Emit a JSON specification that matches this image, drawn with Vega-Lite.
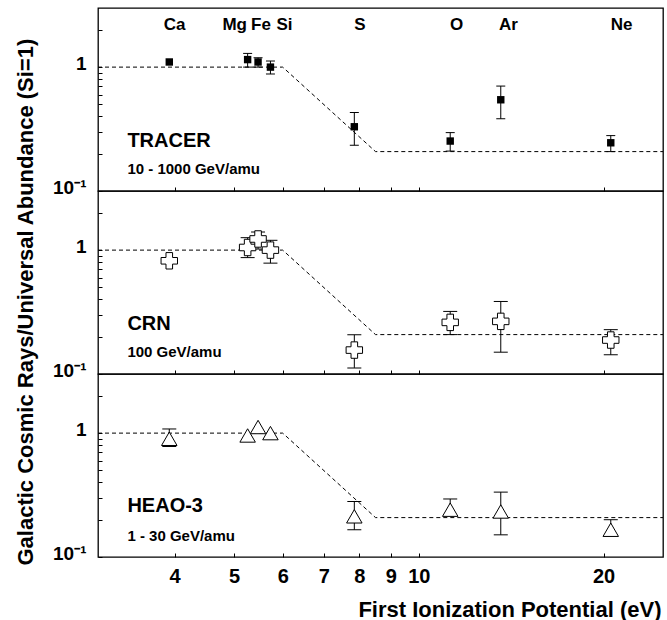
{
  "$schema": "https://vega.github.io/schema/vega-lite/v6.json",
  "autosize": {"type": "pad"},
  "padding": {"left": 13, "top": 7, "right": 5, "bottom": 0},
  "background": "white",
  "bounds": "flush",
  "spacing": 0,
  "datasets": {
    "obs": [
      {"survey": "TRACER", "element": "Ca", "fip": 3.92, "ratio": 1.10, "lo": null, "hi": null},
      {"survey": "TRACER", "element": "Mg", "fip": 5.26, "ratio": 1.15, "lo": 1.00, "hi": 1.29},
      {"survey": "TRACER", "element": "Fe", "fip": 5.47, "ratio": 1.10, "lo": 1.00, "hi": 1.19},
      {"survey": "TRACER", "element": "Si", "fip": 5.73, "ratio": 1.00, "lo": 0.88, "hi": 1.12},
      {"survey": "TRACER", "element": "S", "fip": 7.85, "ratio": 0.33, "lo": 0.234, "hi": 0.43},
      {"survey": "TRACER", "element": "O", "fip": 11.25, "ratio": 0.253, "lo": 0.21, "hi": 0.296},
      {"survey": "TRACER", "element": "Ar", "fip": 13.6, "ratio": 0.545, "lo": 0.383, "hi": 0.703},
      {"survey": "TRACER", "element": "Ne", "fip": 20.55, "ratio": 0.245, "lo": 0.208, "hi": 0.28},
      {"survey": "CRN", "element": "Ca", "fip": 3.92, "ratio": 0.82, "lo": null, "hi": null},
      {"survey": "CRN", "element": "Mg", "fip": 5.26, "ratio": 1.05, "lo": 0.87, "hi": 1.26},
      {"survey": "CRN", "element": "Fe", "fip": 5.47, "ratio": 1.23, "lo": 1.02, "hi": 1.40},
      {"survey": "CRN", "element": "Si", "fip": 5.73, "ratio": 1.00, "lo": 0.785, "hi": 1.20},
      {"survey": "CRN", "element": "S", "fip": 7.85, "ratio": 0.156, "lo": 0.112, "hi": 0.207},
      {"survey": "CRN", "element": "O", "fip": 11.25, "ratio": 0.261, "lo": 0.208, "hi": 0.32},
      {"survey": "CRN", "element": "Ar", "fip": 13.6, "ratio": 0.266, "lo": 0.15, "hi": 0.385},
      {"survey": "CRN", "element": "Ne", "fip": 20.55, "ratio": 0.188, "lo": 0.143, "hi": 0.228},
      {"survey": "HEAO-3", "element": "Ca", "fip": 3.92, "ratio": 0.90, "lo": 0.78, "hi": 1.08},
      {"survey": "HEAO-3", "element": "Mg", "fip": 5.26, "ratio": 0.957, "lo": null, "hi": null},
      {"survey": "HEAO-3", "element": "Fe", "fip": 5.47, "ratio": 1.12, "lo": null, "hi": null},
      {"survey": "HEAO-3", "element": "Si", "fip": 5.73, "ratio": 1.00, "lo": null, "hi": null},
      {"survey": "HEAO-3", "element": "S", "fip": 7.85, "ratio": 0.213, "lo": 0.166, "hi": 0.281},
      {"survey": "HEAO-3", "element": "O", "fip": 11.25, "ratio": 0.241, "lo": 0.216, "hi": 0.294},
      {"survey": "HEAO-3", "element": "Ar", "fip": 13.6, "ratio": 0.233, "lo": 0.151, "hi": 0.334},
      {"survey": "HEAO-3", "element": "Ne", "fip": 20.55, "ratio": 0.166, "lo": 0.147, "hi": 0.20}
    ],
    "model": [
      {"fip": 3, "ratio": 1.0},
      {"fip": 6.0, "ratio": 1.0},
      {"fip": 8.5, "ratio": 0.208},
      {"fip": 25, "ratio": 0.208}
    ],
    "elementLabels": [
      {"element": "Ca", "fip": 4.0},
      {"element": "Mg", "fip": 5.01},
      {"element": "Fe", "fip": 5.53},
      {"element": "Si", "fip": 6.04},
      {"element": "S", "fip": 8.02},
      {"element": "O", "fip": 11.52},
      {"element": "Ar", "fip": 14.0},
      {"element": "Ne", "fip": 21.4}
    ]
  },
  "vconcat": [
    {
      "width": 565,
      "height": 183,
      "layer": [
        {
          "data": {"name": "model"},
          "mark": {"type": "line", "color": "black", "strokeWidth": 1, "strokeDash": [4, 3]},
          "encoding": {
            "x": {"field": "fip", "type": "quantitative", "scale": {"type": "log", "domain": [3, 25], "nice": false},
                  "axis": {"values": [4, 5, 6, 7, 8, 9, 10, 20], "labels": false, "title": null}},
            "y": {"field": "ratio", "type": "quantitative", "scale": {"type": "log", "domain": [0.1, 3], "nice": false},
                  "axis": {"values": [0.1, 0.2, 0.3, 0.4, 0.5, 0.6, 0.7, 0.8, 0.9, 1, 2], "labelExpr": "datum.value == 1 ? '1' : datum.value == 0.1 ? '10⁻¹' : ''", "title": null}}
          }
        },
        {
          "data": {"name": "obs"},
          "transform": [{"filter": "datum.survey === 'TRACER'"}],
          "layer": [
            {
              "mark": {"type": "rule", "color": "black", "strokeWidth": 1},
              "encoding": {
                "x": {"field": "fip", "type": "quantitative"},
                "y": {"field": "lo", "type": "quantitative"},
                "y2": {"field": "hi"}
              }
            },
            {
              "mark": {"type": "tick", "orient": "horizontal", "size": 9, "thickness": 1, "color": "black", "opacity": 1},
              "encoding": {
                "x": {"field": "fip", "type": "quantitative"},
                "y": {"field": "lo", "type": "quantitative"}
              }
            },
            {
              "mark": {"type": "tick", "orient": "horizontal", "size": 9, "thickness": 1, "color": "black", "opacity": 1},
              "encoding": {
                "x": {"field": "fip", "type": "quantitative"},
                "y": {"field": "hi", "type": "quantitative"}
              }
            },
            {
              "mark": {"type": "point", "shape": "square", "filled": true, "color": "black", "size": 55, "opacity": 1},
              "encoding": {
                "x": {"field": "fip", "type": "quantitative"},
                "y": {"field": "ratio", "type": "quantitative"}
              }
            }
          ]
        },
        {
          "data": {"name": "elementLabels"},
          "mark": {"type": "text", "font": "Liberation Sans", "fontWeight": "bold", "fontSize": 17, "color": "black", "align": "center", "baseline": "middle"},
          "encoding": {
            "x": {"field": "fip", "type": "quantitative"},
            "y": {"datum": 2.18},
            "text": {"field": "element"}
          }
        },
        {
          "data": {"values": [{}]},
          "mark": {"type": "text", "font": "Liberation Sans", "fontWeight": "bold", "fontSize": 20, "color": "black", "align": "left", "baseline": "middle"},
          "encoding": {"x": {"datum": 3.35}, "y": {"datum": 0.255}, "text": {"value": "TRACER"}}
        },
        {
          "data": {"values": [{}]},
          "mark": {"type": "text", "font": "Liberation Sans", "fontWeight": "bold", "fontSize": 15, "color": "black", "align": "left", "baseline": "middle"},
          "encoding": {"x": {"datum": 3.35}, "y": {"datum": 0.151}, "text": {"value": "10 - 1000 GeV/amu"}}
        }
      ]
    },
    {
      "width": 565,
      "height": 183,
      "layer": [
        {
          "data": {"name": "model"},
          "mark": {"type": "line", "color": "black", "strokeWidth": 1, "strokeDash": [4, 3]},
          "encoding": {
            "x": {"field": "fip", "type": "quantitative", "scale": {"type": "log", "domain": [3, 25], "nice": false},
                  "axis": {"values": [4, 5, 6, 7, 8, 9, 10, 20], "labels": false, "title": null}},
            "y": {"field": "ratio", "type": "quantitative", "scale": {"type": "log", "domain": [0.1, 3], "nice": false},
                  "axis": {"values": [0.1, 0.2, 0.3, 0.4, 0.5, 0.6, 0.7, 0.8, 0.9, 1, 2], "labelExpr": "datum.value == 1 ? '1' : datum.value == 0.1 ? '10⁻¹' : ''", "title": null}}
          }
        },
        {
          "data": {"name": "obs"},
          "transform": [{"filter": "datum.survey === 'CRN'"}],
          "layer": [
            {
              "mark": {"type": "rule", "color": "black", "strokeWidth": 1},
              "encoding": {
                "x": {"field": "fip", "type": "quantitative"},
                "y": {"field": "lo", "type": "quantitative"},
                "y2": {"field": "hi"}
              }
            },
            {
              "mark": {"type": "tick", "orient": "horizontal", "size": 14, "thickness": 1, "color": "black", "opacity": 1},
              "encoding": {
                "x": {"field": "fip", "type": "quantitative"},
                "y": {"field": "lo", "type": "quantitative"}
              }
            },
            {
              "mark": {"type": "tick", "orient": "horizontal", "size": 14, "thickness": 1, "color": "black", "opacity": 1},
              "encoding": {
                "x": {"field": "fip", "type": "quantitative"},
                "y": {"field": "hi", "type": "quantitative"}
              }
            },
            {
              "mark": {"type": "point", "shape": "cross", "filled": false, "fill": "white", "fillOpacity": 1, "stroke": "black", "strokeWidth": 1, "size": 270, "opacity": 1},
              "encoding": {
                "x": {"field": "fip", "type": "quantitative"},
                "y": {"field": "ratio", "type": "quantitative"}
              }
            }
          ]
        },
        {
          "data": {"values": [{}]},
          "mark": {"type": "text", "font": "Liberation Sans", "fontWeight": "bold", "fontSize": 20, "color": "black", "align": "left", "baseline": "middle"},
          "encoding": {"x": {"datum": 3.35}, "y": {"datum": 0.253}, "text": {"value": "CRN"}}
        },
        {
          "data": {"values": [{}]},
          "mark": {"type": "text", "font": "Liberation Sans", "fontWeight": "bold", "fontSize": 15, "color": "black", "align": "left", "baseline": "middle"},
          "encoding": {"x": {"datum": 3.35}, "y": {"datum": 0.15}, "text": {"value": "100 GeV/amu"}}
        }
      ]
    },
    {
      "width": 565,
      "height": 183,
      "layer": [
        {
          "data": {"name": "model"},
          "mark": {"type": "line", "color": "black", "strokeWidth": 1, "strokeDash": [4, 3]},
          "encoding": {
            "x": {"field": "fip", "type": "quantitative", "scale": {"type": "log", "domain": [3, 25], "nice": false},
                  "axis": {"values": [4, 5, 6, 7, 8, 9, 10, 20], "labels": true, "labelFontSize": 20, "labelPadding": 13,
                           "title": "First Ionization Potential (eV)", "titleFontSize": 22, "titleX": 563, "titleY": 59,
                           "titleAlign": "right", "titleBaseline": "alphabetic"}},
            "y": {"field": "ratio", "type": "quantitative", "scale": {"type": "log", "domain": [0.1, 3], "nice": false},
                  "axis": {"values": [0.1, 0.2, 0.3, 0.4, 0.5, 0.6, 0.7, 0.8, 0.9, 1, 2], "labelExpr": "datum.value == 1 ? '1' : datum.value == 0.1 ? '10⁻¹' : ''",
                           "title": "Galactic Cosmic Rays/Universal Abundance (Si=1)", "titleFontSize": 22, "titleAngle": 270,
                           "titleX": -73, "titleY": 191, "titleAlign": "left", "titleBaseline": "middle"}}
          }
        },
        {
          "data": {"name": "obs"},
          "transform": [{"filter": "datum.survey === 'HEAO-3'"}],
          "layer": [
            {
              "mark": {"type": "rule", "color": "black", "strokeWidth": 1},
              "encoding": {
                "x": {"field": "fip", "type": "quantitative"},
                "y": {"field": "lo", "type": "quantitative"},
                "y2": {"field": "hi"}
              }
            },
            {
              "mark": {"type": "tick", "orient": "horizontal", "size": 14, "thickness": 1, "color": "black", "opacity": 1},
              "encoding": {
                "x": {"field": "fip", "type": "quantitative"},
                "y": {"field": "lo", "type": "quantitative"}
              }
            },
            {
              "mark": {"type": "tick", "orient": "horizontal", "size": 14, "thickness": 1, "color": "black", "opacity": 1},
              "encoding": {
                "x": {"field": "fip", "type": "quantitative"},
                "y": {"field": "hi", "type": "quantitative"}
              }
            },
            {
              "mark": {"type": "point", "shape": "triangle-up", "filled": false, "fill": "white", "fillOpacity": 1, "stroke": "black", "strokeWidth": 1, "size": 240, "opacity": 1},
              "encoding": {
                "x": {"field": "fip", "type": "quantitative"},
                "y": {"field": "ratio", "type": "quantitative"}
              }
            }
          ]
        },
        {
          "data": {"values": [{}]},
          "mark": {"type": "text", "font": "Liberation Sans", "fontWeight": "bold", "fontSize": 20, "color": "black", "align": "left", "baseline": "middle"},
          "encoding": {"x": {"datum": 3.35}, "y": {"datum": 0.256}, "text": {"value": "HEAO-3"}}
        },
        {
          "data": {"values": [{}]},
          "mark": {"type": "text", "font": "Liberation Sans", "fontWeight": "bold", "fontSize": 15, "color": "black", "align": "left", "baseline": "middle"},
          "encoding": {"x": {"datum": 3.35}, "y": {"datum": 0.149}, "text": {"value": "1 - 30 GeV/amu"}}
        }
      ]
    }
  ],
  "config": {
    "font": "Liberation Sans",
    "view": {"stroke": "black", "strokeWidth": 1.3},
    "axis": {
      "domain": false,
      "grid": false,
      "ticks": true,
      "tickColor": "black",
      "tickWidth": 1,
      "tickSize": -4,
      "labelFont": "Liberation Sans",
      "labelFontWeight": "bold",
      "labelColor": "black",
      "labelFlush": false,
      "labelOverlap": false,
      "labelBound": false,
      "titleFont": "Liberation Sans",
      "titleFontWeight": "bold",
      "titleColor": "black"
    },
    "axisY": {
      "labelFontSize": 19,
      "labelPadding": 16,
      "labelAlign": "right",
      "labelBaseline": "middle",
      "labelOffset": -4
    },
    "axisX": {
      "labelFontSize": 20,
      "labelPadding": 13
    }
  }
}
